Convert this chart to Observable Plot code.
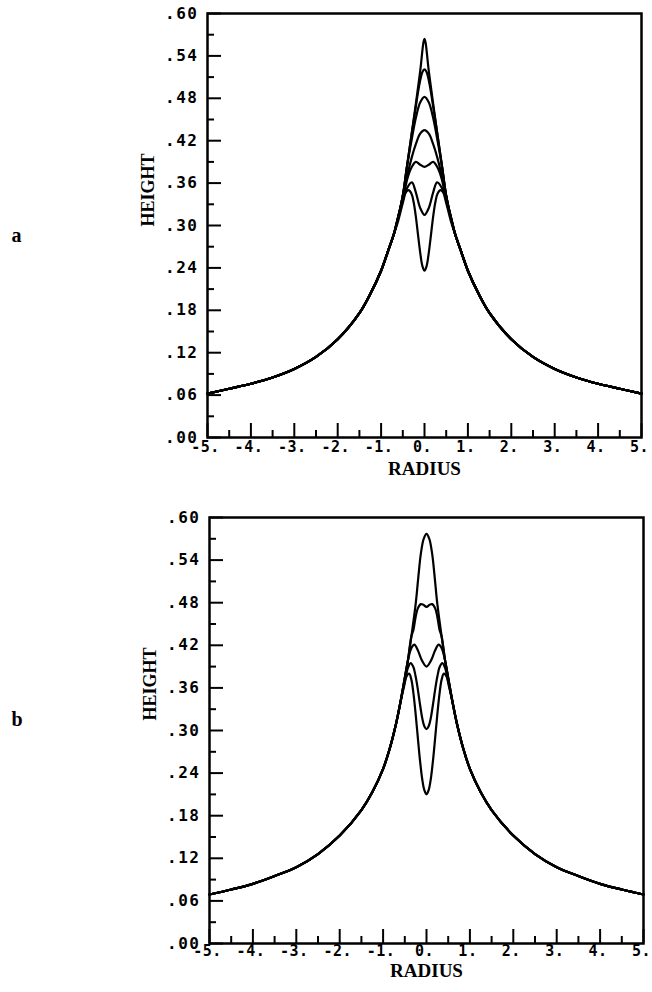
<!DOCTYPE html>
<html><head><meta charset="utf-8">
<script src="https://cdn.jsdelivr.net/npm/d3@7"></script>
<script src="https://cdn.jsdelivr.net/npm/@observablehq/plot@0.6"></script>
<style>
body{margin:0;background:#fff;}
#chart svg{display:block;}
g[aria-label="y-axis tick label"] text{letter-spacing:1.5px;}
g[aria-label="x-axis tick label"] text{letter-spacing:0.5px;}
</style></head><body><div id="chart"></div>
<script>
// tick values and labels
const yMajor = [0, 0.06, 0.12, 0.18, 0.24, 0.30, 0.36, 0.42, 0.48, 0.54, 0.60];
const yMinor = [0.03, 0.09, 0.15, 0.21, 0.27, 0.33, 0.39, 0.45, 0.51, 0.57];
const yTickLabels = [".00", ".06", ".12", ".18", ".24", ".30", ".36", ".42", ".48", ".54", ".60"];
const xMajor = [-5, -4, -3, -2, -1, 0, 1, 2, 3, 4, 5];
const xMinor = [-4.5, -3.5, -2.5, -1.5, -0.5, 0.5, 1.5, 2.5, 3.5, 4.5];
const xTickLabels = ["-5.", "-4.", "-3.", "-2.", "-1.", "0.", "1.", "2.", "3.", "4.", "5."];

// Panel a: common outer profile (radius >= 0, symmetric)
const radiusA   = [0, 0.1, 0.2, 0.3, 0.4, 0.5, 0.6, 0.7, 0.85, 1.0, 1.25, 1.5, 2.0, 2.5, 3.0, 3.5, 4.0, 4.5, 5.0];
const envelopeA = [0.564, 0.518, 0.472, 0.428, 0.385, 0.342, 0.313, 0.289, 0.262, 0.236, 0.203, 0.176, 0.139, 0.114, 0.097, 0.085, 0.076, 0.069, 0.062];
// Panel a: central parts of each curve (radius >= 0)
const a1R = [], a1H = [];
const a2R = [0, 0.05, 0.1, 0.15, 0.2];
const a2H = [0.521, 0.517, 0.505, 0.488, 0.468];
const a3R = [0, 0.1, 0.2, 0.3];
const a3H = [0.482, 0.474, 0.452, 0.42];
const a4R = [0, 0.1, 0.2, 0.3, 0.4];
const a4H = [0.435, 0.43, 0.415, 0.395, 0.37];
const a5R = [0, 0.1, 0.2, 0.3, 0.4, 0.5];
const a5H = [0.383, 0.386, 0.39, 0.382, 0.365, 0.335];
const a6R = [0, 0.1, 0.2, 0.29, 0.4, 0.5, 0.6];
const a6H = [0.315, 0.325, 0.347, 0.361, 0.353, 0.332, 0.308];
const a7R = [0, 0.05, 0.1, 0.15, 0.2, 0.25, 0.3, 0.37, 0.45, 0.55, 0.65];
const a7H = [0.236, 0.243, 0.262, 0.287, 0.313, 0.333, 0.345, 0.35, 0.345, 0.326, 0.302];

// Panel b: common outer profile
const radiusB   = [0, 0.065, 0.13, 0.19, 0.25, 0.35, 0.43, 0.5, 0.6, 0.7, 0.85, 1.0, 1.25, 1.5, 2.0, 2.5, 3.0, 3.5, 4.0, 4.5, 5.0];
const envelopeB = [0.577, 0.57, 0.549, 0.515, 0.478, 0.432, 0.398, 0.374, 0.340, 0.31, 0.274, 0.246, 0.213, 0.188, 0.152, 0.126, 0.1075, 0.095, 0.084, 0.076, 0.069];
const b1R = [], b1H = [];
const b2R = [0, 0.07, 0.13, 0.2, 0.25, 0.3];
const b2H = [0.474, 0.477, 0.478, 0.472, 0.46, 0.442];
const b3R = [0, 0.1, 0.2, 0.28, 0.35];
const b3H = [0.39, 0.398, 0.413, 0.421, 0.416];
const b4R = [0, 0.05, 0.1, 0.15, 0.2, 0.25, 0.3, 0.365, 0.43, 0.5];
const b4H = [0.302, 0.306, 0.318, 0.337, 0.358, 0.376, 0.389, 0.395, 0.388, 0.367];
const b5R = [0, 0.05, 0.1, 0.15, 0.2, 0.25, 0.3, 0.35, 0.4, 0.47, 0.55, 0.62];
const b5H = [0.21, 0.216, 0.232, 0.258, 0.29, 0.323, 0.352, 0.372, 0.38, 0.375, 0.355, 0.333];

function buildCurve(name, envR, envH, coreR, coreH) {
  const cut = coreR.length ? coreR[coreR.length - 1] : -1;
  const half = [];
  coreR.forEach((r, i) => half.push([r, coreH[i]]));
  envR.forEach((r, i) => { if (r > cut + 1e-9) half.push([r, envH[i]]); });
  const left = half.filter(([r]) => r > 0).map(([r, h]) => ({curve: name, r: -r, h})).reverse();
  return [...left, ...half.map(([r, h]) => ({curve: name, r, h}))];
}

const curvesA = [
  ...buildCurve("a1", radiusA, envelopeA, a1R, a1H),
  ...buildCurve("a2", radiusA, envelopeA, a2R, a2H),
  ...buildCurve("a3", radiusA, envelopeA, a3R, a3H),
  ...buildCurve("a4", radiusA, envelopeA, a4R, a4H),
  ...buildCurve("a5", radiusA, envelopeA, a5R, a5H),
  ...buildCurve("a6", radiusA, envelopeA, a6R, a6H),
  ...buildCurve("a7", radiusA, envelopeA, a7R, a7H)
];
const curvesB = [
  ...buildCurve("b1", radiusB, envelopeB, b1R, b1H),
  ...buildCurve("b2", radiusB, envelopeB, b2R, b2H),
  ...buildCurve("b3", radiusB, envelopeB, b3R, b3H),
  ...buildCurve("b4", radiusB, envelopeB, b4R, b4H),
  ...buildCurve("b5", radiusB, envelopeB, b5R, b5H)
];

function panel(cfg) {
  const pw = 652 - cfg.ml - cfg.mr;
  const ph = 496 - cfg.mt - cfg.mb;
  return Plot.plot({
    width: 652, height: 496,
    marginLeft: cfg.ml, marginRight: cfg.mr, marginTop: cfg.mt, marginBottom: cfg.mb,
    x: {domain: [-5, 5]},
    y: {domain: [0, 0.6]},
    style: {fontFamily: "'DejaVu Sans Mono', monospace", fontSize: "16px", color: "black", background: "white", overflow: "visible"},
    marks: [
      Plot.line(cfg.data, {x: "r", y: "h", z: "curve", curve: "catmull-rom", stroke: "black", strokeWidth: 2.2}),
      Plot.tickY(yMajor, {y: d => d, insetRight: pw - 14, stroke: "black", strokeWidth: 2}),
      Plot.tickY(yMinor, {y: d => d, insetRight: pw - 7, stroke: "black", strokeWidth: 2}),
      Plot.tickX(xMajor, {x: d => d, insetTop: ph - 14, stroke: "black", strokeWidth: 2}),
      Plot.tickX(xMinor, {x: d => d, insetTop: ph - 7, stroke: "black", strokeWidth: 2}),
      Plot.frame({stroke: "black", strokeWidth: 2.5}),
      Plot.axisY(yMajor, {tickSize: 0, tickPadding: 9, label: null, fontWeight: "bold", fontSize: 16, tickFormat: d => yTickLabels[yMajor.indexOf(d)]}),
      Plot.axisX(xMajor, {tickSize: 0, tickPadding: cfg.xpad, label: null, fontWeight: "bold", fontSize: 15, dx: -2, tickFormat: d => xTickLabels[xMajor.indexOf(d)]}),
      Plot.text(["HEIGHT"], {frameAnchor: "left", dx: -59, dy: cfg.hdy, rotate: -90, fontFamily: "'Liberation Serif', serif", fontWeight: "bold", fontSize: 18}),
      Plot.text(["RADIUS"], {frameAnchor: "bottom", dy: cfg.rdy, fontFamily: "'Liberation Serif', serif", fontWeight: "bold", fontSize: 19}),
      Plot.text([cfg.tag], {frameAnchor: "left", dx: -cfg.ml + 11, dy: cfg.tdy, fontFamily: "'Liberation Serif', serif", fontWeight: "bold", fontSize: 20})
    ]
  });
}

const root = document.getElementById("chart");
root.append(panel({data: curvesA, ml: 207, mr: 11, mt: 13, mb: 59, xpad: 4, hdy: 1, rdy: 37, tag: "a", tdy: 10}));
root.append(panel({data: curvesB, ml: 209, mr: 9, mt: 21, mb: 49, xpad: 2, hdy: -10, rdy: 33, tag: "b", tdy: -11}));
</script>
</body></html>
